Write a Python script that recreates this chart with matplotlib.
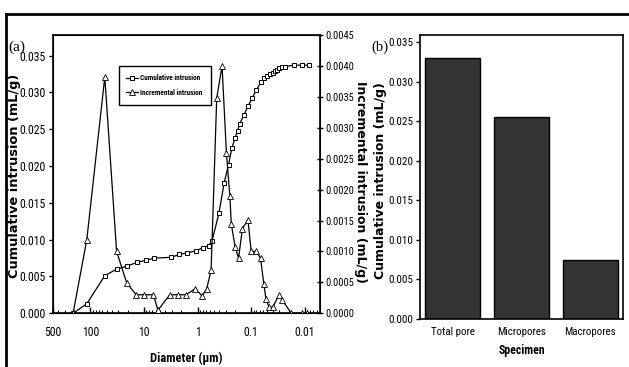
import matplotlib.pyplot as plt
from matplotlib.lines import Line2D
from matplotlib.ticker import FixedLocator, LogLocator, NullFormatter

# --- Data: (a) pore size distribution ---
cum_diam = [211, 117, 54, 32.5, 21, 13.6, 9.2, 6.4, 3.1, 2.2, 1.56, 1.07, 0.8,
            0.62, 0.54, 0.40, 0.32, 0.265, 0.23, 0.2, 0.18, 0.164, 0.136, 0.113,
            0.095, 0.08, 0.066, 0.057, 0.05, 0.045, 0.04, 0.036, 0.033, 0.03,
            0.027, 0.0232, 0.0162, 0.0113, 0.0085]
cum_vals = [0.0, 0.0013, 0.0051, 0.0060, 0.0064, 0.0069, 0.0072, 0.0075, 0.0076,
            0.0080, 0.0082, 0.0085, 0.0089, 0.0092, 0.0098, 0.0136, 0.0177,
            0.0202, 0.0224, 0.0238, 0.0248, 0.0257, 0.0270, 0.0282, 0.0293,
            0.0303, 0.0314, 0.0319, 0.0322, 0.0325, 0.0327, 0.0329, 0.0331,
            0.0333, 0.0334, 0.0335, 0.0337, 0.0337, 0.0337]

inc_diam = [211, 117, 54, 32.5, 21, 14.1, 9.9, 6.7, 5.5, 3.3, 2.3, 1.65, 1.1,
            0.83, 0.68, 0.56, 0.44, 0.35, 0.29, 0.25, 0.235, 0.2, 0.172, 0.146,
            0.115, 0.1, 0.08, 0.067, 0.058, 0.053, 0.0465, 0.0395, 0.0302,
            0.0262, 0.0178, 0.0113, 0.0089]
inc_vals = [0.0, 0.00119, 0.00382, 0.00100, 0.00049, 0.00030, 0.00030, 0.00030,
            0.00005, 0.00030, 0.00030, 0.00030, 0.00040, 0.00028, 0.00039,
            0.00070, 0.00348, 0.00400, 0.00259, 0.00189, 0.00144, 0.00108,
            0.00089, 0.00137, 0.00151, 0.00100, 0.00100, 0.00089, 0.00047,
            0.00023, 0.00010, 0.00010, 0.00030, 0.00021, 0.0, 0.0, 0.0]

# --- Data: (b) specimen totals ---
specimens = ["Total pore", "Micropores", "Macropores"]
spec_vals = [0.0330, 0.0255, 0.0075]

NARROW = ["Roboto Condensed", "Liberation Sans", "DejaVu Sans"]
W, H = 629, 367
fig = plt.figure(figsize=(W / 100, H / 100), dpi=100, facecolor="white")


def style_ticks(labels, size):
    for lab in labels:
        lab.set_family(NARROW)
        lab.set_fontsize(size)


# --- Panel (a) ---
ax = fig.add_axes([53 / W, 1 - 313.3 / H, 267 / W, 278.3 / H])
ax.plot(cum_diam, cum_vals, color="black", lw=0.9, marker="s", ms=3.2,
        mfc="white", mec="black", mew=0.7)
ax.set_xscale("log")
ax.set_xlim(500, 0.0052)
ax.set_ylim(0, 0.0378)
ax.set_xticks([500, 100, 10, 1, 0.1, 0.01])
ax.set_xticklabels(["500", "100", "10", "1", "0.1", "0.01"])
ax.xaxis.set_minor_locator(LogLocator(base=10, subs=range(2, 10), numticks=20))
ax.xaxis.set_minor_formatter(NullFormatter())
ax.set_yticks([0, 0.005, 0.010, 0.015, 0.020, 0.025, 0.030, 0.035])
ax.set_yticklabels(["0.000", "0.005", "0.010", "0.015", "0.020", "0.025",
                    "0.030", "0.035"])
ax.tick_params(axis="x", which="major", direction="in", length=4, width=1, pad=9)
ax.tick_params(axis="x", which="minor", direction="in", length=2.5, width=0.8)
ax.tick_params(axis="y", direction="out", length=3, width=1, pad=2)
style_ticks(ax.get_xticklabels() + ax.get_yticklabels(), 8.5)
for s in ax.spines.values():
    s.set_linewidth(1.2)
ax.set_xlabel("Diameter (\u00b5m)", family=NARROW, fontsize=9, fontweight="bold",
              labelpad=9)

ax2 = ax.twinx()
ax2.plot(inc_diam, inc_vals, color="black", lw=0.9, marker="^", ms=3.8,
         mfc="white", mec="black", mew=0.6)
ax2.set_xlim(500, 0.0052)
ax2.set_ylim(0, 0.0045)
ax2.yaxis.set_major_locator(FixedLocator([i * 0.0005 for i in range(10)]))
ax2.set_yticklabels(["%.4f" % (i * 0.0005) for i in range(10)])
ax2.tick_params(axis="y", direction="inout", length=4, width=1, pad=2)
style_ticks(ax2.get_yticklabels(), 7.5)

handles = [
    Line2D([], [], color="black", lw=0.9, marker="s", ms=3.2, mfc="white",
           mec="black", mew=0.7),
    Line2D([], [], color="black", lw=0.9, marker="^", ms=3.8, mfc="white",
           mec="black", mew=0.6),
]
leg = ax2.legend(handles, ["Cumulative intrusion", "Incremental intrusion"],
                 loc="upper left", bbox_to_anchor=(0.232, 0.9),
                 prop={"family": NARROW, "size": 5.2, "weight": "bold"},
                 handlelength=1.6, handletextpad=0.3, borderpad=1.1,
                 labelspacing=0.9, fancybox=False, edgecolor="black",
                 framealpha=1)
leg.get_frame().set_linewidth(1.0)

# --- Panel (b) ---
bx = fig.add_axes([420 / W, 1 - 319 / H, 203 / W, 284 / H])
bx.bar(specimens, spec_vals, width=0.8, color="#333333", edgecolor="black",
       linewidth=1)
bx.set_xlim(-0.48, 2.48)
bx.set_ylim(0, 0.0359)
bx.set_yticks([0, 0.005, 0.010, 0.015, 0.020, 0.025, 0.030, 0.035])
bx.set_yticklabels(["0.000", "0.005", "0.010", "0.015", "0.020", "0.025",
                    "0.030", "0.035"])
bx.tick_params(axis="x", length=0, pad=6)
bx.tick_params(axis="y", direction="out", length=3, width=1, pad=2)
style_ticks(bx.get_xticklabels(), 7.8)
style_ticks(bx.get_yticklabels(), 8)
for s in bx.spines.values():
    s.set_linewidth(1.2)
bx.set_xlabel("Specimen", family=NARROW, fontsize=8.5, fontweight="bold",
              labelpad=5)

# y-axis titles placed at their measured centres
fig.text(15 / W, 1 - 176 / H, "Cumulative intrusion (mL/g)", rotation=90,
         fontsize=9.3, fontweight="bold", ha="center", va="center")
fig.text(361 / W, 1 - 182 / H, "Incremental intrusion (mL/g)", rotation=-90,
         fontsize=9.0, fontweight="bold", ha="center", va="center")
fig.text(381 / W, 1 - 181 / H, "Cumulative intrusion (mL/g)", rotation=90,
         fontsize=9.0, fontweight="bold", ha="center", va="center")

# panel letters
fig.text(17 / W, 1 - 47 / H, "(a)", family="Liberation Serif", fontsize=11,
         ha="center", va="center")
fig.text(380 / W, 1 - 47 / H, "(b)", family="Liberation Serif", fontsize=10.5,
         ha="center", va="center")

# outer frame (left and top edges)
fig.add_artist(Line2D([6 / W, 6 / W], [0, 1 - 14 / H], transform=fig.transFigure,
                      color="black", lw=2))
fig.add_artist(Line2D([6 / W, 1], [1 - 14 / H, 1 - 14 / H],
                      transform=fig.transFigure, color="black", lw=2))

fig.savefig("out.png", dpi=100, facecolor="white")
